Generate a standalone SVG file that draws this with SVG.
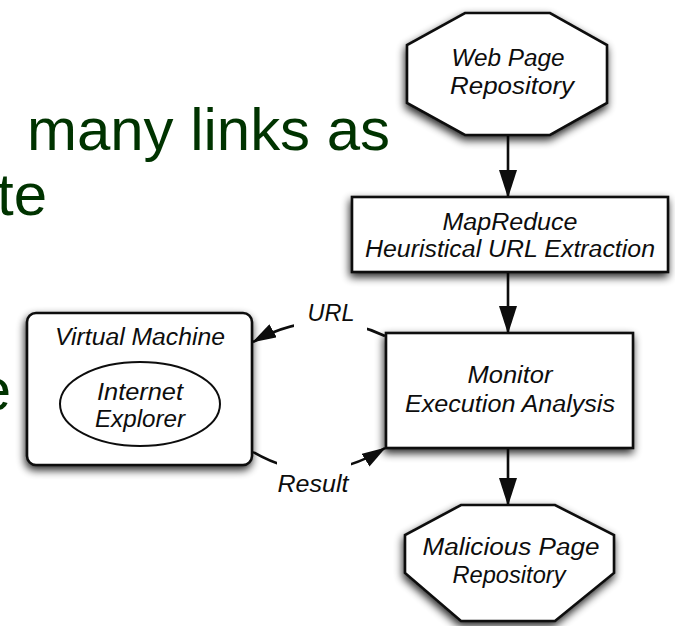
<svg xmlns="http://www.w3.org/2000/svg" width="675" height="626" viewBox="0 0 675 626">
<defs>
<style>
.bg{fill:#ffffff}
.slide{font-family:"Liberation Sans",Arial,sans-serif;font-size:60px;fill:#003300}
.node{fill:#ffffff;stroke:#0d0d0d;stroke-width:2.6}
.lbl{font-family:"Liberation Sans",Arial,sans-serif;font-style:italic;font-size:23px;fill:#0d0d0d;text-anchor:middle}
.elabel{font-family:"Liberation Sans",Arial,sans-serif;font-style:italic;font-size:24px;fill:#0d0d0d;text-anchor:middle}
.edge{fill:none;stroke:#0d0d0d;stroke-width:2.6}
.mask{fill:#ffffff}
</style>
<filter id="sh" x="-20%" y="-25%" width="140%" height="160%">
<feGaussianBlur in="SourceAlpha" stdDeviation="4"/>
<feOffset dx="-1" dy="4" result="b"/>
<feComponentTransfer><feFuncA type="linear" slope="0.85"/></feComponentTransfer>
<feMerge><feMergeNode/><feMergeNode in="SourceGraphic"/></feMerge>
</filter>
<marker id="ah" viewBox="0 0 28 18" refX="27" refY="9" markerUnits="userSpaceOnUse" markerWidth="28" markerHeight="18" orient="auto">
<path d="M0,0 L28,9 L0,18 z" fill="#0d0d0d"/>
</marker>
<marker id="ahs" viewBox="0 0 24 15" refX="23" refY="7.5" markerUnits="userSpaceOnUse" markerWidth="24" markerHeight="15" orient="auto">
<path d="M0,0 L24,7.5 L0,15 z" fill="#0d0d0d"/>
</marker>
</defs>
<rect class="bg" x="0" y="0" width="675" height="626"/>

<g id="slide-text">
<text class="slide" x="27" y="150" textLength="363" lengthAdjust="spacingAndGlyphs">many links as</text>
<text class="slide" x="-3" y="215">te</text>
<text class="slide" x="11" y="410" text-anchor="end">e</text>
</g>

<g id="connectors">
<path class="edge" d="M508,135 V197" marker-end="url(#ah)"/>
<path class="edge" d="M508,272 V333" marker-end="url(#ah)"/>
<path class="edge" d="M508,448 V505" marker-end="url(#ah)"/>
<path class="edge" d="M385,336 Q319,305 253,342" marker-end="url(#ahs)"/>
<rect class="mask" x="294" y="296" width="73" height="36"/>
<text class="elabel" x="331" y="321" textLength="47" lengthAdjust="spacingAndGlyphs">URL</text>
<path class="edge" d="M253,452 Q318,490 385,448" marker-end="url(#ahs)"/>
<rect class="mask" x="277" y="459" width="74" height="38"/>
<text class="elabel" x="313" y="492" textLength="71" lengthAdjust="spacingAndGlyphs">Result</text>
</g>

<g id="web-page-repository">
<polygon class="node" filter="url(#sh)" points="465,13 550,13 607,45 607,103 550,135 465,135 407,103 407,45"/>
<text class="lbl" x="508" y="66" textLength="113" lengthAdjust="spacingAndGlyphs">Web Page</text>
<text class="lbl" x="512" y="94" textLength="124" lengthAdjust="spacingAndGlyphs">Repository</text>
</g>

<g id="mapreduce">
<rect class="node" filter="url(#sh)" x="352" y="197" width="316" height="75"/>
<text class="lbl" x="510" y="230" textLength="135" lengthAdjust="spacingAndGlyphs">MapReduce</text>
<text class="lbl" x="510" y="257" textLength="290" lengthAdjust="spacingAndGlyphs">Heuristical URL Extraction</text>
</g>

<g id="monitor">
<rect class="node" filter="url(#sh)" x="386" y="333" width="247" height="115"/>
<text class="lbl" x="510" y="383" textLength="85" lengthAdjust="spacingAndGlyphs">Monitor</text>
<text class="lbl" x="510" y="412" textLength="210" lengthAdjust="spacingAndGlyphs">Execution Analysis</text>
</g>

<g id="virtual-machine">
<rect class="node" filter="url(#sh)" x="27" y="313" width="225" height="152" rx="9" ry="9"/>
<text class="lbl" x="140" y="345" textLength="170" lengthAdjust="spacingAndGlyphs">Virtual Machine</text>
<g id="internet-explorer">
<ellipse fill="#ffffff" stroke="#0d0d0d" stroke-width="2" cx="140" cy="404" rx="80" ry="42"/>
<text class="lbl" x="140" y="400" textLength="86" lengthAdjust="spacingAndGlyphs">Internet</text>
<text class="lbl" x="140" y="427" textLength="90" lengthAdjust="spacingAndGlyphs">Explorer</text>
</g>
</g>

<g id="malicious-page-repository">
<polygon class="node" filter="url(#sh)" points="461,505 555,505 614,535 614,573 555,621 461,621 405,573 405,535"/>
<text class="lbl" x="511" y="555" textLength="177" lengthAdjust="spacingAndGlyphs">Malicious Page</text>
<text class="lbl" x="509" y="583" textLength="113" lengthAdjust="spacingAndGlyphs">Repository</text>
</g>
</svg>
